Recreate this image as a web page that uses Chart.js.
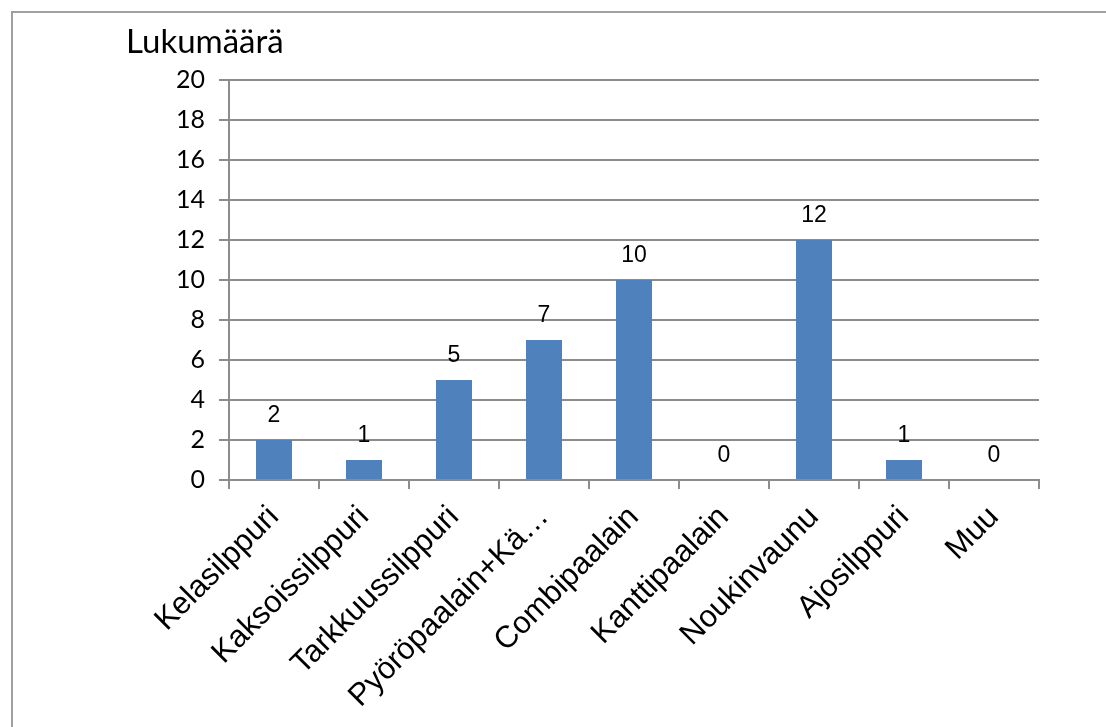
<!DOCTYPE html>
<html>
<head>
<meta charset="utf-8">
<script src="https://cdn.jsdelivr.net/npm/chart.js@4/dist/chart.umd.min.js"></script>
<style>
  html, body { margin: 0; padding: 0; background: #ffffff; }
  #wrap { width: 1106px; height: 727px; }
</style>
</head>
<body>
<div id="wrap"><canvas id="c" width="1106" height="727"></canvas></div>
<script>
// Machine types and their counts
const categories = ['Kelasilppuri', 'Kaksoissilppuri', 'Tarkkuussilppuri', 'Pyöröpaalain+Kä…',
  'Combipaalain', 'Kanttipaalain', 'Noukinvaunu', 'Ajosilppuri', 'Muu'];
const counts = [2, 1, 5, 7, 10, 0, 12, 1, 0];
const yTicks = [0, 2, 4, 6, 8, 10, 12, 14, 16, 18, 20];
const axisTitle = 'Lukumäärä';

const GRID = '#8c8c8c';
const BAR = '#4f81bd';

// Frame lines along the left and top edge of the page
const framePlugin = {
  id: 'frame',
  beforeDraw(chart) {
    const ctx = chart.ctx;
    ctx.save();
    ctx.fillStyle = '#ffffff';
    ctx.fillRect(0, 0, chart.width, chart.height);
    ctx.strokeStyle = '#a0a0a0';
    ctx.lineWidth = 2;
    ctx.beginPath();
    ctx.moveTo(12, chart.height);
    ctx.lineTo(12, 12);
    ctx.lineTo(chart.width, 12);
    ctx.stroke();
    ctx.restore();
  }
};

// Value axis title above the tick labels
const axisTitlePlugin = {
  id: 'axisTitle',
  afterDraw(chart) {
    const ctx = chart.ctx;
    const a = chart.chartArea;
    ctx.save();
    ctx.fillStyle = '#000000';
    ctx.font = '33px Lato, "Open Sans", sans-serif';
    ctx.textAlign = 'left';
    ctx.textBaseline = 'alphabetic';
    ctx.fillText(axisTitle, a.left - 103, a.top - 27);
    ctx.restore();
  }
};

// Value labels above each bar
const valueLabelPlugin = {
  id: 'valueLabels',
  afterDatasetsDraw(chart) {
    const ctx = chart.ctx;
    const meta = chart.getDatasetMeta(0);
    const data = chart.data.datasets[0].data;
    ctx.save();
    ctx.fillStyle = '#000000';
    ctx.font = '23px "Liberation Sans", Arial, sans-serif';
    ctx.textAlign = 'center';
    ctx.textBaseline = 'alphabetic';
    meta.data.forEach((bar, i) => {
      ctx.fillText(String(data[i]), bar.x, bar.y - 18);
    });
    ctx.restore();
  }
};

new Chart(document.getElementById('c'), {
  type: 'bar',
  data: {
    labels: categories,
    datasets: [{
      data: counts,
      backgroundColor: BAR,
      borderWidth: 0,
      categoryPercentage: 1.0,
      barPercentage: 0.4
    }]
  },
  options: {
    responsive: false,
    animation: false,
    events: [],
    layout: { padding: { top: 80, right: 67, left: 0, bottom: 0 } },
    plugins: {
      legend: { display: false },
      tooltip: { enabled: false },
      title: { display: false }
    },
    scales: {
      x: {
        offset: true,
        grid: {
          offset: true,
          drawOnChartArea: false,
          drawTicks: true,
          tickLength: 9,
          color: GRID,
          lineWidth: 2
        },
        border: { display: true, color: GRID, width: 2 },
        ticks: {
          autoSkip: false,
          minRotation: 45,
          maxRotation: 45,
          padding: 10,
          color: '#000000',
          font: { family: '"Liberation Sans", Arial, sans-serif', size: 31 }
        },
        afterFit(scale) { scale.height = 247; }
      },
      y: {
        min: 0,
        max: 20,
        afterBuildTicks(scale) { scale.ticks = yTicks.map(v => ({ value: v })); },
        grid: {
          color: GRID,
          lineWidth: 2,
          drawTicks: true,
          tickLength: 10
        },
        border: { display: true, color: GRID, width: 2 },
        ticks: {
          padding: 14,
          color: '#000000',
          font: { family: 'Lato, "Open Sans", sans-serif', size: 25 }
        },
        afterFit(scale) { scale.width = 229; }
      }
    }
  },
  plugins: [framePlugin, axisTitlePlugin, valueLabelPlugin]
});
</script>
</body>
</html>
